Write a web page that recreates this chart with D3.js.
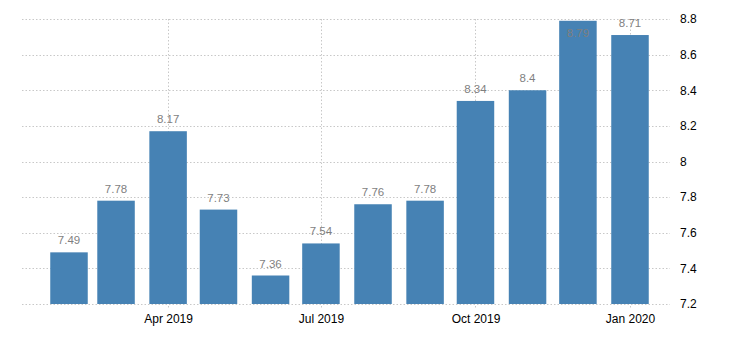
<!DOCTYPE html>
<html>
<head>
<meta charset="utf-8">
<script src="https://cdn.jsdelivr.net/npm/d3@7"></script>
<style>
  html, body { margin: 0; padding: 0; background: #fff; }
  svg { display: block; font-family: "Liberation Sans", Arial, sans-serif; }
</style>
</head>
<body>
<svg id="chart" width="730" height="340"></svg>
<script>
// Monthly values, Feb 2019 – Jan 2020
const months = ["2019-02", "2019-03", "2019-04", "2019-05", "2019-06", "2019-07",
                "2019-08", "2019-09", "2019-10", "2019-11", "2019-12", "2020-01"];
const values = [7.49, 7.78, 8.17, 7.73, 7.36, 7.54, 7.76, 7.78, 8.34, 8.4, 8.79, 8.71];
const xTickMonths = ["2019-04", "2019-07", "2019-10", "2020-01"];
const yTicks = [7.2, 7.4, 7.6, 7.8, 8, 8.2, 8.4, 8.6, 8.8];

const parse = d3.timeParse("%Y-%m");
const data = months.map((m, i) => ({ date: parse(m), value: values[i] }));

const svg = d3.select("#chart");
const gridLeft = 22, gridRight = 670;
const barWidth = 37.5;

const x = d3.scaleTime()
  .domain([parse("2019-02"), parse("2020-01")])
  .range([69, 630]);
const y = d3.scaleLinear().domain([7.2, 8.8]).range([304, 19]);

// horizontal grid
svg.append("g")
  .selectAll("line")
  .data(yTicks)
  .join("line")
  .attr("x1", gridLeft).attr("x2", gridRight)
  .attr("y1", d => Math.round(y(d)) + 0.5).attr("y2", d => Math.round(y(d)) + 0.5)
  .attr("stroke", "#c8c8c8").attr("stroke-dasharray", "1.5,2");

// vertical grid at tick months
const xTicks = xTickMonths.map(parse);
svg.append("g")
  .selectAll("line")
  .data(xTicks)
  .join("line")
  .attr("x1", d => Math.round(x(d)) + 0.5).attr("x2", d => Math.round(x(d)) + 0.5)
  .attr("y1", 19).attr("y2", 309)
  .attr("stroke", "#c8c8c8").attr("stroke-dasharray", "1.5,2");

// bars
svg.append("g")
  .selectAll("rect")
  .data(data)
  .join("rect")
  .attr("x", d => x(d.date) - barWidth / 2)
  .attr("width", barWidth)
  .attr("y", d => y(d.value))
  .attr("height", d => y(7.2) - y(d.value))
  .attr("fill", "#4682b4");

// value labels
svg.append("g")
  .selectAll("text")
  .data(data)
  .join("text")
  .attr("x", d => x(d.date))
  .attr("y", d => {
    const top = y(d.value) - 8;
    return top < 27 ? y(d.value) + 16 : top;
  })
  .attr("text-anchor", "middle")
  .attr("font-size", 11.5)
  .attr("fill", "#7f7f7f")
  .text(d => d.value);

// x axis labels
const xAxis = d3.axisBottom(x)
  .tickValues(xTicks)
  .tickSize(0)
  .tickPadding(10)
  .tickFormat(d3.timeFormat("%b %Y"));
const gx = svg.append("g").attr("transform", "translate(0,304)").call(xAxis);
gx.select(".domain").remove();
gx.selectAll("text").attr("font-size", 12).attr("fill", "#000").attr("font-family", "Liberation Sans, Arial, sans-serif");

// y axis labels on the right
const yAxis = d3.axisRight(y)
  .tickValues(yTicks)
  .tickSize(0)
  .tickPadding(10)
  .tickFormat(d => d3.format("")(d));
const gy = svg.append("g").attr("transform", "translate(670,0)").call(yAxis);
gy.select(".domain").remove();
gy.selectAll("text").attr("font-size", 12).attr("fill", "#000").attr("font-family", "Liberation Sans, Arial, sans-serif");
</script>
</body>
</html>
